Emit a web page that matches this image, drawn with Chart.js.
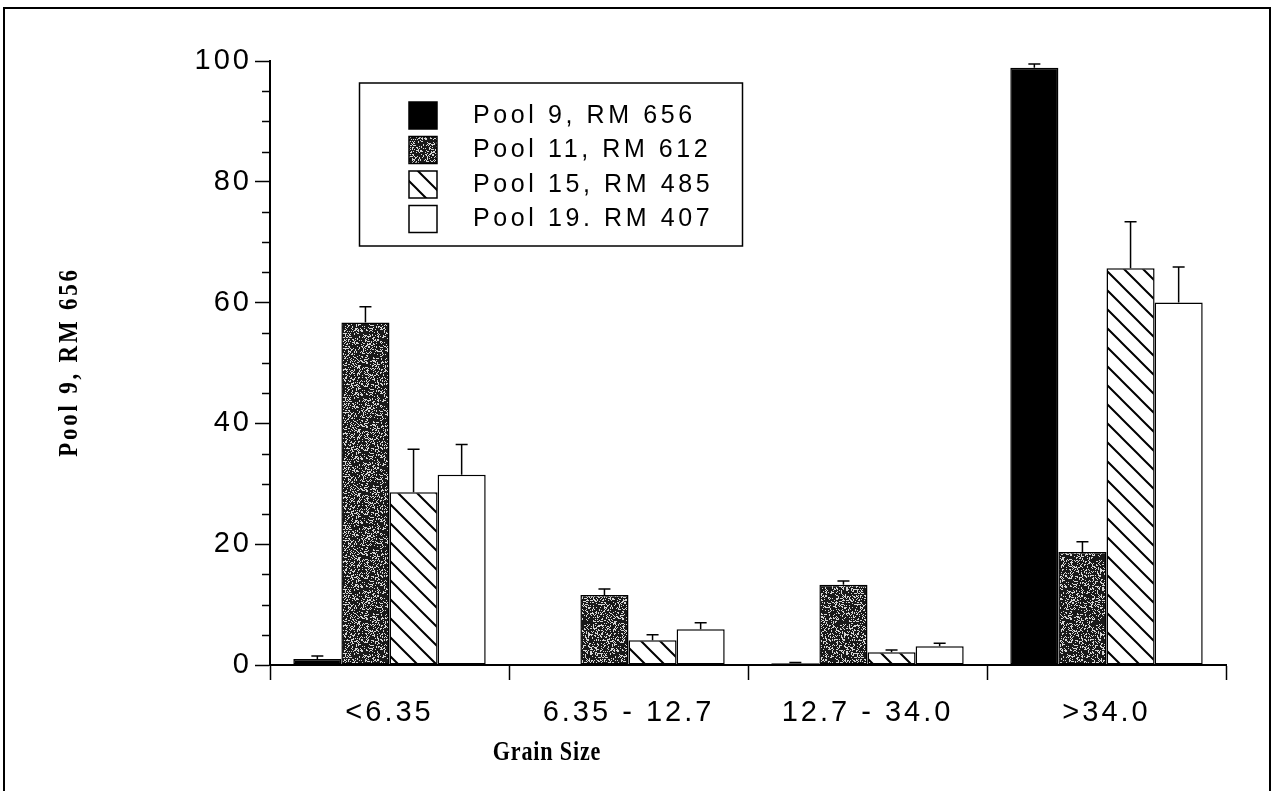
<!DOCTYPE html>
<html><head><meta charset="utf-8">
<script src="https://cdn.jsdelivr.net/npm/chart.js@4"></script>
<style>html,body{margin:0;padding:0;background:#fff}#wrap{width:1275px;height:791px;position:relative}</style>
</head><body><div id="wrap"><canvas id="c"></canvas></div>
<script>
const categories = ['<6.35', '6.35 - 12.7', '12.7 - 34.0', '>34.0'];
const seriesNames = ['Pool 9, RM 656', 'Pool 11, RM 612', 'Pool 15, RM 485', 'Pool 19. RM 407'];
const pool9 = [1.0, 0.15, 0.3, 98.9];
const pool9Err = [0.5, 0, 0.1, 0.6];
const pool11 = [56.7, 11.6, 13.3, 18.7];
const pool11Err = [2.6, 1.0, 0.6, 1.7];
const pool15 = [28.6, 4.1, 2.1, 65.7];
const pool15Err = [7.1, 0.9, 0.4, 7.7];
const pool19 = [31.5, 5.9, 3.1, 60.0];
const pool19Err = [5.0, 1.1, 0.5, 5.9];
const yMin = 0, yMax = 100, yMajorStep = 20, yMinorStep = 5;
const yTitle = 'Pool 9, RM 656';
const xTitle = 'Grain Size';

function stipple() {
  const n = 64;
  const c = document.createElement('canvas'); c.width = c.height = n;
  const g = c.getContext('2d'); const img = g.createImageData(n, n);
  for (let y = 0; y < n; y++) for (let x = 0; x < n; x++) {
    let h = (Math.imul(x, 374761393) + Math.imul(y, 668265263)) >>> 0;
    h = Math.imul(h ^ (h >>> 13), 1274126177) >>> 0;
    h = (h ^ (h >>> 16)) >>> 0;
    const v = (h % 100) < 27 ? 215 : 25;
    const i = (y * n + x) * 4;
    img.data[i] = img.data[i + 1] = img.data[i + 2] = v; img.data[i + 3] = 255;
  }
  g.putImageData(img, 0, 0);
  return g.createPattern(c, 'repeat');
}
function hatch() {
  const s = 19;
  const c = document.createElement('canvas'); c.width = c.height = s;
  const g = c.getContext('2d');
  g.fillStyle = '#fff'; g.fillRect(0, 0, s, s);
  g.strokeStyle = '#000'; g.lineWidth = 2;
  g.beginPath();
  for (let k = -1; k <= 1; k++) { g.moveTo(-5, -5 + k * s); g.lineTo(s + 5, s + 5 + k * s); }
  g.stroke();
  return g.createPattern(c, 'repeat');
}

const fills = ['#000', stipple(), hatch(), '#fff'];
const values = [pool9, pool11, pool15, pool19];
const errs = [pool9Err, pool11Err, pool15Err, pool19Err];

const datasets = values.map((d, i) => ({
  label: seriesNames[i], data: d, err: errs[i],
  backgroundColor: fills[i], borderColor: '#000', borderWidth: 1.5, borderSkipped: false,
  categoryPercentage: 0.805, barPercentage: 1.0
}));

const TICKFONT = '"Liberation Sans", Arial, sans-serif';
const SERIF = '"Liberation Serif", "Times New Roman", serif';

const decor = {
  id: 'decor',
  beforeDraw(chart) {
    const ctx = chart.ctx;
    ctx.save(); ctx.fillStyle = '#fff'; ctx.fillRect(0, 0, chart.width, chart.height); ctx.restore();
    ctx.letterSpacing = '3px';
  },
  afterDatasetsDraw(chart) {
    const ctx = chart.ctx, y = chart.scales.y;
    ctx.save();
    ctx.letterSpacing = '0px';
    ctx.strokeStyle = '#000'; ctx.lineWidth = 1.5;
    chart.data.datasets.forEach((ds, i) => {
      const meta = chart.getDatasetMeta(i);
      meta.data.forEach((el, j) => {
        const e = ds.err[j];
        if (!e) return;
        const y0 = y.getPixelForValue(ds.data[j]);
        const y1 = y.getPixelForValue(ds.data[j] + e);
        ctx.beginPath();
        ctx.moveTo(el.x, y0); ctx.lineTo(el.x, y1);
        ctx.moveTo(el.x - 6, y1); ctx.lineTo(el.x + 6, y1);
        ctx.stroke();
      });
    });
    const ax = y.right;
    for (let v = yMin; v <= yMax; v += yMinorStep) {
      if (v % yMajorStep === 0) continue;
      const p = Math.round(y.getPixelForValue(v)) + 0.5;
      ctx.beginPath(); ctx.moveTo(ax - 8, p); ctx.lineTo(ax, p); ctx.stroke();
    }
    ctx.restore();
  },
  afterDraw(chart) {
    const ctx = chart.ctx;
    ctx.save();
    ctx.fillStyle = '#000'; ctx.strokeStyle = '#000';
    // legend
    ctx.letterSpacing = '3.6px';
    ctx.lineWidth = 1.5;
    ctx.strokeRect(359.5, 83, 383, 163);
    ctx.font = '25px ' + TICKFONT;
    ctx.textBaseline = 'middle'; ctx.textAlign = 'left';
    chart.data.datasets.forEach((ds, i) => {
      const y0 = 102 + i * 34.5;
      ctx.fillStyle = ds.backgroundColor;
      ctx.fillRect(409, y0, 28, 27);
      ctx.strokeRect(409, y0, 28, 27);
      ctx.fillStyle = '#000';
      ctx.fillText(ds.label, 473, y0 + 14);
    });
    // axis titles (tall, condensed serif)
    ctx.font = 'bold 27px ' + SERIF;
    ctx.textAlign = 'center'; ctx.textBaseline = 'middle';
    ctx.save();
    ctx.translate(547, 753); ctx.scale(0.82, 1);
    ctx.letterSpacing = '1px';
    ctx.fillText(xTitle, 0, 0);
    ctx.restore();
    ctx.save();
    ctx.translate(70, 362); ctx.rotate(-Math.PI / 2); ctx.scale(0.85, 1);
    ctx.letterSpacing = '3.3px';
    ctx.fillText(yTitle, 0, 0);
    ctx.restore();
    // outer frame
    ctx.lineWidth = 2;
    ctx.strokeRect(4, 8, 1266, 900);
    ctx.restore();
    ctx.letterSpacing = '0px';
  }
};

new Chart(document.getElementById('c'), {
  type: 'bar',
  data: { labels: categories, datasets },
  options: {
    responsive: true, maintainAspectRatio: false, animation: false,
    layout: { padding: { top: 61, right: 49, left: 0, bottom: 0 } },
    plugins: { legend: { display: false }, tooltip: { enabled: false }, title: { display: false } },
    scales: {
      x: {
        offset: true,
        afterFit(s) { s.height = 126; },
        grid: { drawOnChartArea: false, drawTicks: true, tickLength: 15, tickWidth: 1.5, tickColor: '#000', offset: true },
        border: { display: true, color: '#000', width: 2 },
        ticks: { color: '#000', font: { family: TICKFONT, size: 29 }, padding: 16, maxRotation: 0, autoSkip: false }
      },
      y: {
        min: yMin, max: yMax,
        afterFit(s) { s.width = 270; },
        grid: { drawOnChartArea: false, drawTicks: true, tickLength: 15, tickWidth: 1.5, tickColor: '#000' },
        border: { display: true, color: '#000', width: 2 },
        ticks: { stepSize: yMajorStep, color: '#000', font: { family: TICKFONT, size: 29 }, padding: 3 }
      }
    }
  },
  plugins: [decor]
});
</script></body></html>
